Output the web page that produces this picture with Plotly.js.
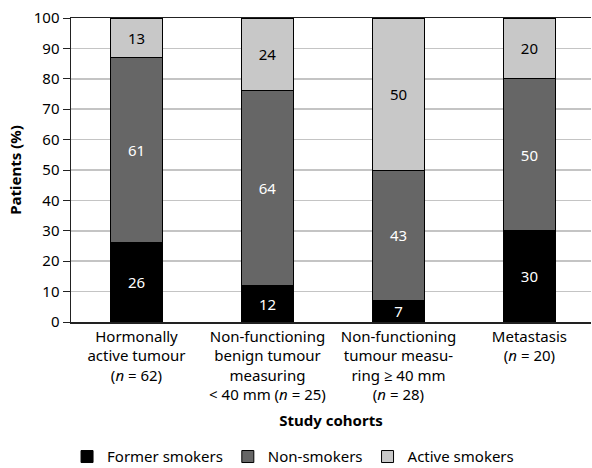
<!DOCTYPE html>
<html>
<head>
<meta charset="utf-8">
<script src="https://cdn.plot.ly/plotly-3.0.1.min.js"></script>
<style>html,body{margin:0;padding:0;background:#fff;}#chart{width:592px;height:468px;}</style>
</head>
<body>
<div id="chart"></div>
<script>
const categories = [
  "Hormonally<br>active tumour<br>(<i>n</i> = 62)",
  "Non-functioning<br>benign tumour<br>measuring<br>&lt; 40 mm (<i>n</i> = 25)",
  "Non-functioning<br>tumour measu-<br>ring ≥ 40 mm<br>(<i>n</i> = 28)",
  "Metastasis<br>(<i>n</i> = 20)"
];
const formerSmokers = [26, 12, 7, 30];
const nonSmokers = [61, 64, 43, 50];
const activeSmokers = [13, 24, 50, 20];
const seriesNames = ["Former smokers", "Non-smokers", "Active smokers"];
const yTicks = [0, 10, 20, 30, 40, 50, 60, 70, 80, 90, 100];

const font = "Noto Sans, Open Sans, sans-serif";
const xIdx = categories.map((c, i) => i);

function bar(name, vals, color, textColor) {
  return {
    type: "bar",
    name: name,
    x: xIdx,
    y: vals,
    text: vals.map(String),
    textposition: "inside",
    insidetextanchor: "middle",
    textangle: 0,
    constraintext: "none",
    insidetextfont: {family: font, size: 15, color: textColor},
    marker: {color: color, line: {color: "#000", width: 1}},
    width: 0.4,
    hoverinfo: "none"
  };
}

const data = [
  bar(seriesNames[0], formerSmokers, "#000000", "#ffffff"),
  bar(seriesNames[1], nonSmokers, "#666666", "#ffffff"),
  bar(seriesNames[2], activeSmokers, "#c8c8c8", "#000000")
];

const layout = {
  width: 592,
  height: 468,
  barmode: "stack",
  margin: {l: 71, r: 1, t: 18, b: 146, autoexpand: false},
  paper_bgcolor: "#fff",
  plot_bgcolor: "#fff",
  font: {family: font, size: 15, color: "#000"},
  showlegend: true,
  legend: {
    orientation: "h",
    x: 0.427, xanchor: "center", xref: "paper",
    y: 0.024, yanchor: "middle", yref: "container",
    font: {family: font, size: 15, color: "#000"},
    itemwidth: 30,
    traceorder: "normal"
  },
  xaxis: {
    type: "linear",
    range: [-0.5, 3.47],
    tickvals: xIdx,
    ticktext: categories,
    tickfont: {family: font, size: 15, color: "#000"},
    showgrid: false,
    zeroline: false,
    showline: true,
    linecolor: "#222",
    linewidth: 1.5,
    mirror: true,
    ticks: "",
    title: {text: "<b>Study cohorts</b>", font: {family: font, size: 15, color: "#000"}, standoff: 12}
  },
  yaxis: {
    range: [0, 100],
    tickvals: yTicks,
    ticktext: yTicks.map(String),
    tickfont: {family: font, size: 15, color: "#000"},
    showgrid: true,
    gridcolor: "#c4c4c4",
    gridwidth: 1.5,
    zeroline: false,
    showline: true,
    linecolor: "#222",
    linewidth: 1.5,
    ticks: "outside",
    ticklen: 7,
    tickcolor: "#222",
    title: {text: "<b>Patients (%)</b>", font: {family: font, size: 15, color: "#000"}, standoff: 8}
  }
};

Plotly.newPlot("chart", data, layout, {staticPlot: true, displayModeBar: false});
</script>
</body>
</html>
